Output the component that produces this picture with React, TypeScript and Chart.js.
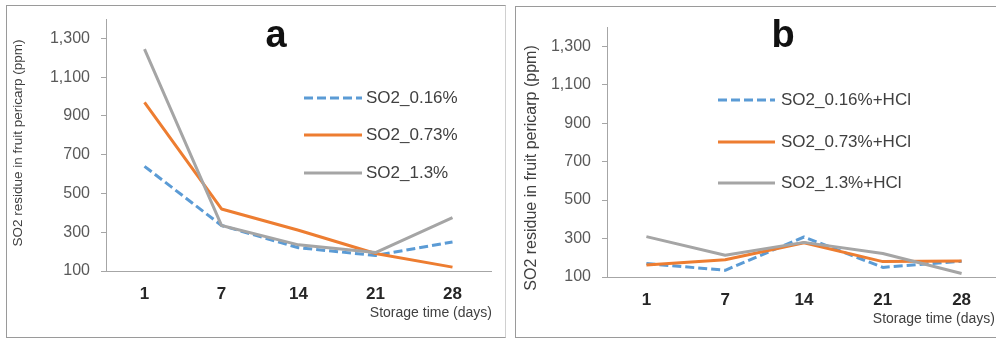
import React, { useEffect, useRef } from "react";
import { Chart, registerables } from "chart.js";

Chart.register(...registerables);

// ---------- data ----------
const days = ["1", "7", "14", "21", "28"];
const yTickValues = [100, 300, 500, 700, 900, 1100, 1300];
const yTickLabels = ["100", "300", "500", "700", "900", "1,100", "1,300"];
const yMin = 100;
const yMax = 1400;

const seriesA016 = [640, 335, 220, 180, 250];
const seriesA073 = [970, 420, 310, 190, 120];
const seriesA13 = [1245, 335, 235, 195, 375];

const seriesB016 = [170, 135, 308, 150, 182];
const seriesB073 = [162, 190, 278, 180, 183];
const seriesB13 = [310, 213, 280, 222, 118];

const namesA = ["SO2_0.16%", "SO2_0.73%", "SO2_1.3%"];
const namesB = ["SO2_0.16%+HCl", "SO2_0.73%+HCl", "SO2_1.3%+HCl"];

const yTitle = "SO2 residue in fruit pericarp (ppm)";
const xTitle = "Storage time (days)";

// ---------- styles ----------
const FONT = "'Liberation Sans', Arial, sans-serif";
const BLUE = "#5B9BD5";
const ORANGE = "#ED7D31";
const GRAY = "#A5A5A5";
const AXIS = "#a6a6a6";

type PanelCfg = {
  left: number;
  width: number;
  height: number;
  padTop: number;
  padRight: number;
  yWidth: number;
  xHeight: number;
  letter: string;
  letterX: number;
  letterY: number;
  yTitleX: number;
  yTitleY: number;
  yTitleSize: number;
  legX1: number;
  legX2: number;
  legTextX: number;
  legYs: number[];
  xTitleRight: number;
  xTitleY: number;
  names: string[];
  values: number[][];
};

const panelA: PanelCfg = {
  left: 0,
  width: 510,
  height: 340,
  padTop: 19,
  padRight: 19,
  yWidth: 106,
  xHeight: 69,
  letter: "a",
  letterX: 276,
  letterY: 47,
  yTitleX: 18,
  yTitleY: 143,
  yTitleSize: 13.5,
  legX1: 304,
  legX2: 362,
  legTextX: 366,
  legYs: [98, 135, 173],
  xTitleRight: 492,
  xTitleY: 313,
  names: namesA,
  values: [seriesA016, seriesA073, seriesA13],
};

const panelB: PanelCfg = {
  left: 510,
  width: 500,
  height: 340,
  padTop: 27,
  padRight: 9,
  yWidth: 97,
  xHeight: 63,
  letter: "b",
  letterX: 273,
  letterY: 47,
  yTitleX: 22,
  yTitleY: 168,
  yTitleSize: 16,
  legX1: 208,
  legX2: 265,
  legTextX: 271,
  legYs: [100, 142, 183],
  xTitleRight: 485,
  xTitleY: 319,
  names: namesB,
  values: [seriesB016, seriesB073, seriesB13],
};

function makeDecorPlugin(cfg: PanelCfg) {
  return {
    id: "decor" + cfg.letter,
    afterDraw(chart: any) {
      const ctx = chart.ctx as CanvasRenderingContext2D;
      ctx.save();
      // panel letter
      ctx.fillStyle = "#111111";
      ctx.font = `bold 38px ${FONT}`;
      ctx.textAlign = "center";
      ctx.textBaseline = "alphabetic";
      ctx.fillText(cfg.letter, cfg.letterX, cfg.letterY);

      // y title
      ctx.save();
      ctx.translate(cfg.yTitleX, cfg.yTitleY);
      ctx.rotate(-Math.PI / 2);
      ctx.fillStyle = "#404040";
      ctx.font = `${cfg.yTitleSize}px ${FONT}`;
      ctx.textAlign = "center";
      ctx.textBaseline = "middle";
      ctx.fillText(yTitle, 0, 0);
      ctx.restore();

      // x title
      ctx.fillStyle = "#404040";
      ctx.font = `14px ${FONT}`;
      ctx.textAlign = "right";
      ctx.textBaseline = "middle";
      ctx.fillText(xTitle, cfg.xTitleRight, cfg.xTitleY);

      // legend
      chart.data.datasets.forEach((ds: any, i: number) => {
        const y = cfg.legYs[i];
        ctx.save();
        ctx.strokeStyle = ds.borderColor;
        ctx.lineWidth = ds.borderWidth;
        ctx.setLineDash(ds.borderDash || []);
        ctx.beginPath();
        ctx.moveTo(cfg.legX1, y);
        ctx.lineTo(cfg.legX2, y);
        ctx.stroke();
        ctx.restore();
        ctx.fillStyle = "#404040";
        ctx.font = `17px ${FONT}`;
        ctx.textAlign = "left";
        ctx.textBaseline = "middle";
        ctx.fillText(ds.label, cfg.legTextX, y);
      });
      ctx.restore();
    },
  };
}

function Panel({ cfg }: { cfg: PanelCfg }) {
  const ref = useRef<HTMLCanvasElement>(null);
  useEffect(() => {
    const colors = [BLUE, ORANGE, GRAY];
    const chart = new Chart(ref.current as HTMLCanvasElement, {
      type: "line",
      data: {
        labels: days,
        datasets: cfg.values.map((vals, i) => ({
          label: cfg.names[i],
          data: vals,
          borderColor: colors[i],
          backgroundColor: colors[i],
          borderWidth: 3,
          borderDash: i === 0 ? [9, 4] : [],
          borderJoinStyle: "round" as const,
          pointRadius: 0,
          tension: 0,
          order: 3 - i,
        })),
      },
      options: {
        responsive: false,
        animation: false,
        devicePixelRatio: 1,
        layout: { padding: { left: 0, top: cfg.padTop, right: cfg.padRight, bottom: 0 } },
        plugins: { legend: { display: false }, tooltip: { enabled: false }, title: { display: false } },
        scales: {
          x: {
            type: "category",
            offset: true,
            grid: { display: false, drawTicks: false },
            border: { display: true, color: AXIS, width: 1 },
            ticks: {
              padding: 13,
              color: "#262626",
              font: { family: FONT, size: 17, weight: "bold" },
              maxRotation: 0,
            },
            afterFit: (s: any) => {
              s.height = cfg.xHeight;
              s.paddingLeft = 0;
              s.paddingRight = 0;
            },
          },
          y: {
            type: "linear",
            min: yMin,
            max: yMax,
            afterBuildTicks: (s: any) => {
              s.ticks = yTickValues.map((v) => ({ value: v }));
            },
            afterFit: (s: any) => {
              s.width = cfg.yWidth;
              s.paddingTop = 0;
              s.paddingBottom = 0;
            },
            grid: { drawOnChartArea: false, drawTicks: true, tickLength: 5, color: AXIS },
            border: { display: true, color: AXIS, width: 1 },
            ticks: {
              padding: 11,
              color: "#595959",
              font: { family: FONT, size: 16 },
              callback: (_v: any, i: number) => yTickLabels[i],
            },
          },
        },
      },
      plugins: [makeDecorPlugin(cfg)],
    } as any);
    return () => chart.destroy();
  }, []);
  return (
    <canvas
      ref={ref}
      width={cfg.width}
      height={cfg.height}
      style={{ position: "absolute", left: cfg.left, top: 0, width: cfg.width, height: cfg.height }}
    />
  );
}

export default function App() {
  return (
    <div
      style={{
        position: "fixed",
        left: 0,
        top: 0,
        width: 996,
        height: 340,
        overflow: "hidden",
        background: "#ffffff",
      }}
    >
      <div
        style={{
          position: "absolute",
          left: 6,
          top: 5,
          width: 500,
          height: 333,
          boxSizing: "border-box",
          borderLeft: "1px solid #9a9a9a",
          borderTop: "1px solid #9a9a9a",
          borderBottom: "1px solid #9a9a9a",
          borderRight: "1px solid #d0d0d0",
        }}
      />
      <div
        style={{
          position: "absolute",
          left: 515,
          top: 6,
          width: 500,
          height: 332,
          boxSizing: "border-box",
          border: "1px solid #9a9a9a",
        }}
      />
      <Panel cfg={panelA} />
      <Panel cfg={panelB} />
    </div>
  );
}
